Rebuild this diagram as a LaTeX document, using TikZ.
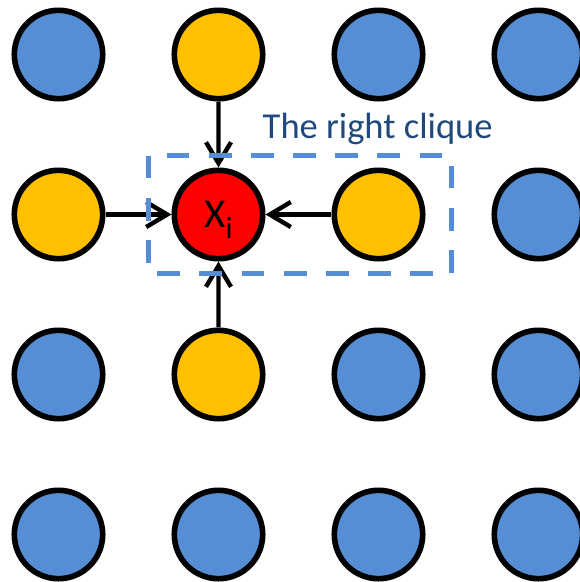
\documentclass[tikz,border=0pt]{standalone}
\usepackage{fontspec}
\setmainfont{Carlito}
\usepackage{xcolor}
\usetikzlibrary{arrows.meta}
\definecolor{siteblue}{HTML}{558ED5}
\definecolor{sitegold}{HTML}{FFC000}
\definecolor{cliquetext}{HTML}{1F497D}

\begin{document}
\begin{tikzpicture}[
  site/.style={circle,draw=black,line width=1.6pt,minimum size=0.884cm,inner sep=0pt,fill=siteblue},
  nbr/.style={site,fill=sitegold},
  edge/.style={line width=1.25pt,-{Straight Barb[length=2.1mm,width=2.5mm]}},
  clique/.style={draw=siteblue,line width=1.45pt,dash pattern=on 6.5pt off 5.5pt}
]
\useasboundingbox (0,0) rectangle (5.8,-5.82);
% lattice sites
\foreach \r/\c in {1/1,1/3,1/4,2/4,3/1,3/3,3/4,4/1,4/2,4/3,4/4}
  \node[site] (x\r\c) at ({0.585+1.6*(\c-1)},{-0.545-1.6*(\r-1)}) {};
\foreach \r/\c in {1/2,2/1,2/3,3/2}
  \node[nbr] (x\r\c) at ({0.585+1.6*(\c-1)},{-0.545-1.6*(\r-1)}) {};
\node[site,fill=red,font=\fontsize{11.7}{12}\selectfont] (xi) at (2.185,-2.145)
  {X\smash{\raisebox{-0.11cm}{\fontsize{8.8}{9}\selectfont i}}\hspace{0.08cm}};
% neighbours
\draw[edge] (x12) -- (xi);
\draw[edge] (x21) -- (xi);
\draw[edge] (x23) -- (xi);
\draw[edge] (x32) -- (xi);
\draw[clique] (1.487,-1.555) rectangle (4.517,-2.735);
\node[anchor=base west,inner sep=0pt,text=cliquetext,font=\fontsize{10.4}{12}\selectfont] (lbl) at (2.62,-1.38) {The right clique};
\end{tikzpicture}
\end{document}
